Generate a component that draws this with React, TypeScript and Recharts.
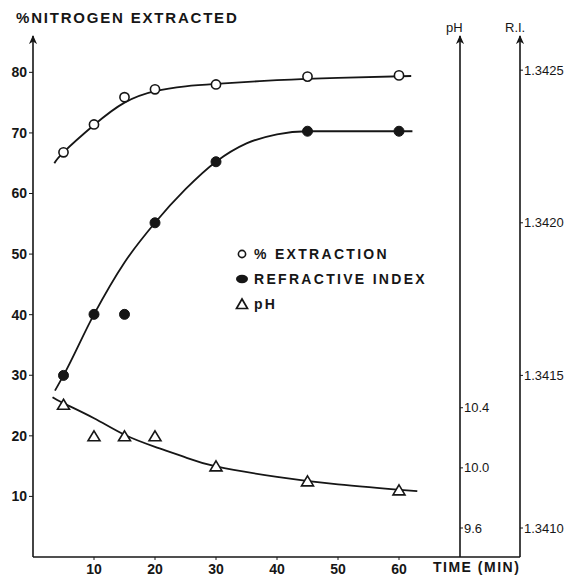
import React from 'react';
import {
  ComposedChart,
  Line,
  Scatter,
  XAxis,
  YAxis,
  Legend,
  ReferenceLine,
} from 'recharts';

// measured points (time in min)
const time = [5, 10, 15, 20, 30, 45, 60];
const extraction = [66.8, 71.4, 75.9, 77.2, 78.0, 79.3, 79.5];
const refractiveIndex = [1.3415, 1.3417, 1.3417, 1.342, 1.3422, 1.3423, 1.3423];
const ph = [10.42, 10.21, 10.21, 10.21, 10.01, 9.91, 9.85];

// hand drawn fitted curves
const extractionCurveTime = [3.5, 5, 10, 15, 20, 25, 30, 40, 50, 62];
const extractionCurve = [65.0, 66.8, 71.3, 75.0, 76.9, 77.7, 78.1, 78.7, 79.1, 79.4];
const riCurveTime = [3.6, 5, 10, 15, 20, 25, 30, 35, 40, 45, 62.2];
const riCurve = [1.34145, 1.3415, 1.3417, 1.34187, 1.342, 1.34211, 1.3422, 1.34226, 1.34229, 1.3423, 1.3423];
const phCurveTime = [3.2, 5, 10, 15, 20, 25, 30, 40, 50, 63];
const phCurve = [10.47, 10.43, 10.33, 10.22, 10.14, 10.07, 10.01, 9.94, 9.89, 9.845];

const timeTicks = [10, 20, 30, 40, 50, 60];
const nitrogenTicks = [10, 20, 30, 40, 50, 60, 70, 80];
const phTicks = [9.6, 10.0, 10.4];
const riTicks = [1.341, 1.3415, 1.342, 1.3425];

const toRows = (xs: number[], ys: number[]) => xs.map((x, i) => ({ x, y: ys[i] }));

const extractionPts = toRows(time, extraction);
const riPts = toRows(time, refractiveIndex);
const phPts = toRows(time, ph);

const INK = '#161616';
const FONT = '"Liberation Sans", Arial, sans-serif';

const OpenCircle = (props: any) => (
  <circle cx={props.cx} cy={props.cy} r={4.6} fill="#fff" stroke={INK} strokeWidth={1.6} />
);
const FilledCircle = (props: any) => (
  <circle cx={props.cx} cy={props.cy} r={5} fill={INK} stroke={INK} />
);
const OpenTriangle = (props: any) => {
  const { cx, cy } = props;
  return (
    <path
      d={`M${cx},${cy - 5.5} L${cx + 6},${cy + 4.5} L${cx - 6},${cy + 4.5} Z`}
      fill="#fff"
      stroke={INK}
      strokeWidth={1.6}
    />
  );
};

const legendIcons: Record<string, React.ReactNode> = {
  '% EXTRACTION': <circle cx={8} cy={7} r={3.6} fill="#fff" stroke={INK} strokeWidth={1.6} />,
  'REFRACTIVE INDEX': <ellipse cx={8} cy={7} rx={6} ry={4.2} fill={INK} />,
  pH: <path d="M8,2 L13.5,11.5 L2.5,11.5 Z" fill="#fff" stroke={INK} strokeWidth={1.7} />,
};

const renderLegend = (props: any) => {
  const items = (props.payload || []).filter((p: any) => p.type !== 'none');
  return (
    <div>
      {items.map((p: any) => (
        <div key={p.value} style={{ display: 'flex', alignItems: 'center', height: 25 }}>
          <svg width={16} height={14}>{legendIcons[p.value]}</svg>
          <span
            style={{
              marginLeft: 4,
              fontFamily: FONT,
              fontSize: 14,
              fontWeight: 700,
              letterSpacing: 2.3,
              color: INK,
            }}
          >
            {p.value}
          </span>
        </div>
      ))}
    </div>
  );
};

const axisLine = { stroke: INK, strokeWidth: 1.6, markerStart: 'url(#axisArrow)' };
const boldTick = { fontFamily: FONT, fontSize: 14, fontWeight: 700, fill: INK };
const plainTick = { fontFamily: FONT, fontSize: 13, fill: INK };

const label = (extra: React.CSSProperties): React.CSSProperties => ({
  position: 'absolute',
  fontFamily: FONT,
  color: INK,
  whiteSpace: 'nowrap',
  ...extra,
});

export default function App() {
  return (
    <div style={{ position: 'absolute', left: 0, top: 0, width: 580, height: 577, background: '#fff' }}>
      <svg width={0} height={0} style={{ position: 'absolute' }}>
        <defs>
          <marker
            id="axisArrow"
            viewBox="0 0 10 10"
            refX={9}
            refY={5}
            markerWidth={9}
            markerHeight={9}
            markerUnits="userSpaceOnUse"
            orient="auto-start-reverse"
          >
            <path d="M0,0.5 L10,5 L0,9.5 L3,5 Z" fill={INK} />
          </marker>
        </defs>
      </svg>

      <ComposedChart width={580} height={577} margin={{ top: 36, right: 0, bottom: 0, left: 0 }}>
        <XAxis
          type="number"
          dataKey="x"
          domain={[0, 70]}
          allowDataOverflow
          ticks={timeTicks}
          tickSize={3}
          tickMargin={4}
          height={20}
          axisLine={{ stroke: INK, strokeWidth: 1.6 }}
          tickLine={{ stroke: INK }}
          tick={boldTick}
        />
        <YAxis
          yAxisId="left"
          dataKey="y"
          type="number"
          domain={[0, 86]}
          allowDataOverflow
          ticks={nitrogenTicks}
          width={33}
          tickSize={4}
          tickMargin={2}
          axisLine={axisLine}
          tickLine={{ stroke: INK }}
          tick={boldTick}
        />
        <YAxis
          yAxisId="ph"
          orientation="right"
          dataKey="y"
          type="number"
          domain={[9.407, 12.873]}
          allowDataOverflow
          ticks={phTicks}
          tickFormatter={(v: number) => v.toFixed(1)}
          width={60}
          tickSize={3}
          tickMargin={1}
          axisLine={axisLine}
          tickLine={{ stroke: INK }}
          tick={plainTick}
        />
        <YAxis
          yAxisId="ri"
          orientation="right"
          dataKey="y"
          type="number"
          domain={[1.340905, 1.342612]}
          allowDataOverflow
          ticks={riTicks}
          tickFormatter={(v: number) => v.toFixed(4)}
          width={60}
          tickSize={3}
          tickMargin={1}
          axisLine={axisLine}
          tickLine={{ stroke: INK }}
          tick={plainTick}
        />

        {/* bottom axis runs on under the pH axis to the R.I. axis */}
        <ReferenceLine
          yAxisId="left"
          segment={[{ x: 70, y: 0 }, { x: 79.85, y: 0 }]}
          ifOverflow="visible"
          stroke={INK}
          strokeWidth={1.6}
        />

        <Line yAxisId="left" data={toRows(extractionCurveTime, extractionCurve)} dataKey="y" type="natural"
          stroke={INK} strokeWidth={1.8} dot={false} legendType="none" isAnimationActive={false} />
        <Line yAxisId="ri" data={toRows(riCurveTime, riCurve)} dataKey="y" type="monotone"
          stroke={INK} strokeWidth={1.8} dot={false} legendType="none" isAnimationActive={false} />
        <Line yAxisId="ph" data={toRows(phCurveTime, phCurve)} dataKey="y" type="natural"
          stroke={INK} strokeWidth={1.8} dot={false} legendType="none" isAnimationActive={false} />

        <Scatter yAxisId="left" name="% EXTRACTION" data={extractionPts} dataKey="y" fill={INK}
          shape={OpenCircle} isAnimationActive={false} />
        <Scatter yAxisId="ri" name="REFRACTIVE INDEX" data={riPts} dataKey="y" fill={INK}
          shape={FilledCircle} isAnimationActive={false} />
        <Scatter yAxisId="ph" name="pH" data={phPts} dataKey="y" fill={INK}
          shape={OpenTriangle} isAnimationActive={false} />

        <Legend
          layout="vertical"
          align="center"
          verticalAlign="middle"
          content={renderLegend}
          wrapperStyle={{ left: 234, top: 241, width: 220 }}
        />
      </ComposedChart>

      <div style={label({ left: 16, top: 9, fontSize: 15, fontWeight: 700, letterSpacing: 1.8 })}>
        %NITROGEN EXTRACTED
      </div>
      <div style={label({ left: 446, top: 20, fontSize: 13 })}>pH</div>
      <div style={label({ left: 505, top: 20, fontSize: 13 })}>R.I.</div>
      <div style={label({ left: 433, top: 559, fontSize: 14, fontWeight: 700, letterSpacing: 1.5 })}>
        TIME (MIN)
      </div>
    </div>
  );
}
